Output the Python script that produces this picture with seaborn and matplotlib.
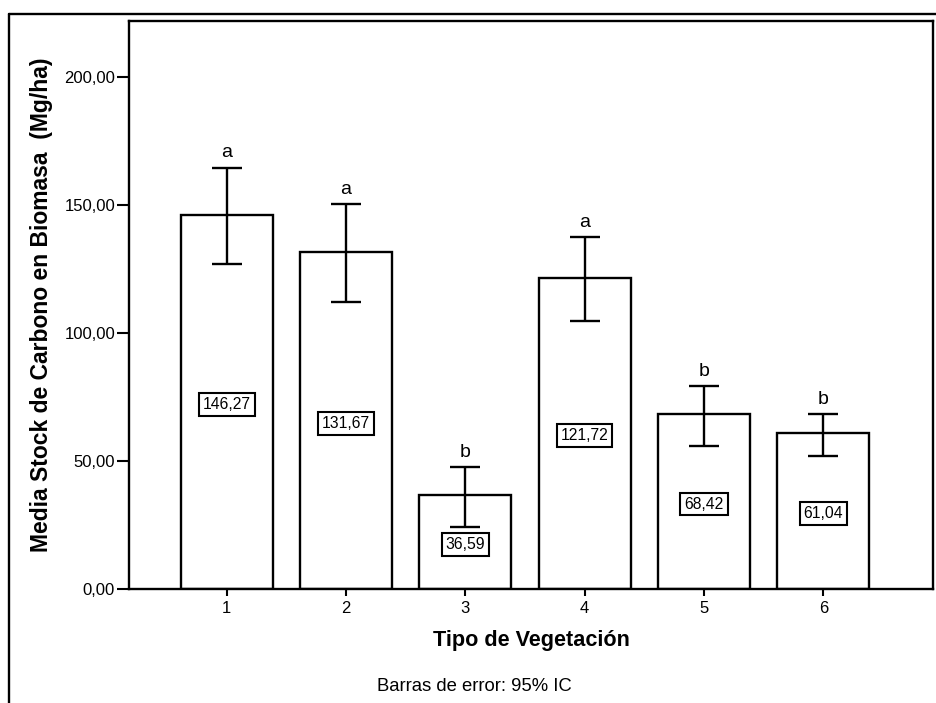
import matplotlib
matplotlib.use("Agg")
import matplotlib.pyplot as plt
import seaborn as sns
import pandas as pd
from matplotlib.lines import Line2D

# data
tipos = ["1", "2", "3", "4", "5", "6"]
medias = [146.27, 131.67, 36.59, 121.72, 68.42, 61.04]
ic_sup = [164.6, 150.4, 47.7, 137.5, 79.3, 68.4]
ic_inf = [127.1, 112.0, 24.3, 104.8, 55.9, 52.1]
letras = ["a", "a", "b", "a", "b", "b"]
etiquetas = ["146,27", "131,67", "36,59", "121,72", "68,42", "61,04"]
y_ticks = [0, 50, 100, 150, 200]
y_tick_labels = ["0,00", "50,00", "100,00", "150,00", "200,00"]

df = pd.DataFrame({"tipo": tipos, "media": medias})

sns.set_theme(style="ticks")
plt.rcParams["font.family"] = ["Liberation Sans", "DejaVu Sans"]
plt.rcParams["text.color"] = "black"
plt.rcParams["axes.labelcolor"] = "black"
plt.rcParams["xtick.color"] = "black"
plt.rcParams["ytick.color"] = "black"

fig = plt.figure(figsize=(9.36, 7.03), dpi=100)
ax = fig.add_axes([0.1378, 0.1622, 0.859, 0.8079])

sns.barplot(data=df, x="tipo", y="media", color="white", edgecolor="black",
            linewidth=1.7, width=0.77, errorbar=None, ax=ax, saturation=1)

xs = range(len(tipos))
err_low = [m - lo for m, lo in zip(medias, ic_inf)]
err_up = [hi - m for m, hi in zip(medias, ic_sup)]
ax.errorbar(xs, medias, yerr=[err_low, err_up], fmt="none", ecolor="black",
            elinewidth=1.7, capsize=10.8, capthick=1.7, zorder=3)

for x, m, hi, let, lab in zip(xs, medias, ic_sup, letras, etiquetas):
    ax.text(x, hi + 2.5, let, ha="center", va="bottom", fontsize=14)
    ax.text(x, m / 2 - 1, lab, ha="center", va="center", fontsize=11.3,
            bbox=dict(boxstyle="square,pad=0.25", fc="white", ec="black", lw=1.5),
            zorder=4)

ax.set_ylim(0, 222)
ax.set_xlim(-0.82, 5.92)
ax.set_yticks(y_ticks)
ax.set_yticklabels(y_tick_labels, fontsize=12)
ax.tick_params(axis="x", labelsize=12, length=5, width=1.5, pad=4)
ax.tick_params(axis="y", length=9, width=1.5, pad=1)
for s in ax.spines.values():
    s.set_linewidth(1.7)
    s.set_color("black")

ax.set_ylabel("Media Stock de Carbono en Biomasa  (Mg/ha)", fontsize=16.5,
              fontweight="bold", labelpad=8)
ax.set_xlabel("Tipo de Vegetación", fontsize=15.6, fontweight="bold", labelpad=10)

fig.text(0.507, 0.023, "Barras de error: 95% IC", ha="center", va="center", fontsize=13.3)

# outer frame of the original figure
fig.add_artist(Line2D([0.0095, 0.0095], [0, 0.98], color="black", lw=1.7))
fig.add_artist(Line2D([0.0095, 1.0], [0.98, 0.98], color="black", lw=1.7))

fig.savefig("out.png", dpi=100)
